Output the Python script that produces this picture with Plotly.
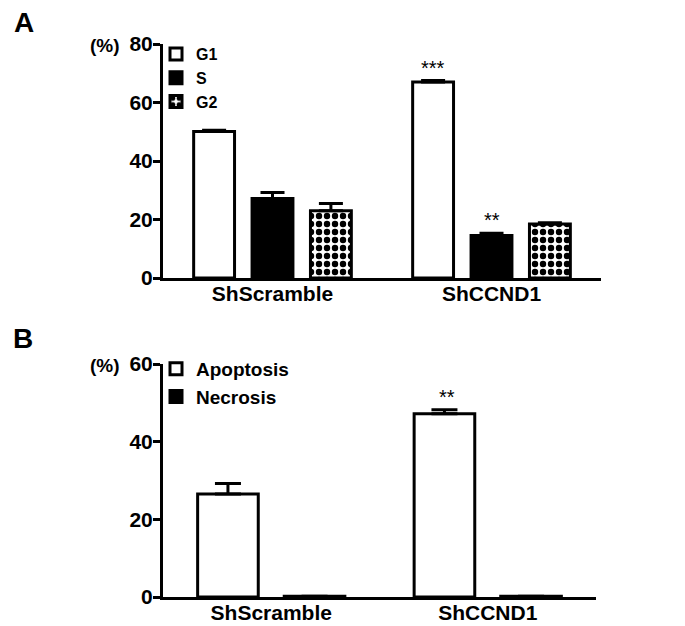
import plotly.graph_objects as go

# ---------------- data ----------------
groups = ["ShScramble", "ShCCND1"]

# Panel A: cell cycle phases (%)
phases = ["G1", "S", "G2"]
g1_mean = [50.1, 67.0]
g1_err = [0.4, 0.5]
s_mean = [27.2, 14.5]
s_err = [2.0, 0.8]
g2_mean = [23.0, 18.5]
g2_err = [2.5, 0.4]
sig_A = {"G1": ["", "***"], "S": ["", "**"], "G2": ["", ""]}

# Panel B: apoptosis / necrosis (%)
apo_mean = [26.5, 47.2]
apo_err = [2.7, 1.0]
nec_mean = [0.2, 0.2]
nec_err = [0.0, 0.0]
sig_B = {"Apoptosis": ["", "**"], "Necrosis": ["", ""]}

yticks_A = [0, 20, 40, 60, 80]
yticks_B = [0, 20, 40, 60]

# ---------------- style ----------------
FONT = "Arial, Liberation Sans, sans-serif"
OX, OY = 0, 8                # observed page offset of the figure
W, H = 685 - 8, 626 - OY
LW = 3

def px(x):
    return (x - OX) / W

def py(y):
    return 1 - (y - OY) / H

fig = go.Figure()

def bar(name, x, y, err, fill, xa, ya, legend, pattern=None, capw=12):
    marker = dict(color=fill, line=dict(color="black", width=LW))
    if pattern:
        marker["pattern"] = pattern
    fig.add_trace(go.Bar(
        name=name, x=x, y=y, xaxis=xa, yaxis=ya, legend=legend,
        marker=marker,
        error_y=dict(type="data", array=err, arrayminus=[0] * len(err),
                     symmetric=False, color="black", thickness=LW, width=capw),
    ))

# panel A
bar("G1", groups, g1_mean, g1_err, "white", "x", "y", "legend")
bar("S", groups, s_mean, s_err, "black", "x", "y", "legend")
bar("G2", groups, g2_mean, g2_err, "white", "x", "y", "legend",
    pattern=dict(shape=".", fgcolor="black", bgcolor="white", size=8, solidity=0.5))
# panel B
bar("Apoptosis", groups, apo_mean, apo_err, "white", "x2", "y2", "legend2", capw=13)
bar("Necrosis", groups, nec_mean, nec_err, "black", "x2", "y2", "legend2", capw=13)

BARGAP_A = 0.2
BARGAP_B = 0.25
GROUPGAP = 0.3

annotations = []

def add_sig(means, errs, sigs, ntr, idx, xref, yref, gap):
    slot = (1 - gap) / ntr
    off = -(1 - gap) / 2 + (idx + 0.5) * slot
    for gi, (m, e, s) in enumerate(zip(means, errs, sigs)):
        if s:
            annotations.append(dict(x=gi + off, y=m + e, xref=xref, yref=yref,
                                    text=s, showarrow=False, xanchor="center", yanchor="bottom",
                                    yshift=0, font=dict(family=FONT, size=20, color="black")))

add_sig(g1_mean, g1_err, sig_A["G1"], 3, 0, "x", "y", BARGAP_A)
add_sig(s_mean, s_err, sig_A["S"], 3, 1, "x", "y", BARGAP_A)
add_sig(apo_mean, apo_err, sig_B["Apoptosis"], 2, 0, "x2", "y2", BARGAP_B)

# panel letters and (%) labels
annotations += [
    dict(x=px(16), y=py(23), xref="paper", yref="paper", text="<b>A</b>",
         xanchor="center", yanchor="middle",
         showarrow=False, font=dict(family=FONT, size=28, color="black")),
    dict(x=px(15), y=py(338), xref="paper", yref="paper", text="<b>B</b>",
         xanchor="center", yanchor="middle",
         showarrow=False, font=dict(family=FONT, size=28, color="black")),
    dict(x=px(114), y=py(45), xref="paper", yref="paper", text="<b>(%)</b>",
         showarrow=False, xanchor="right", yanchor="middle",
         font=dict(family=FONT, size=19, color="black")),
    dict(x=px(114), y=py(365), xref="paper", yref="paper", text="<b>(%)</b>",
         showarrow=False, xanchor="right", yanchor="middle",
         font=dict(family=FONT, size=19, color="black")),
]

yax = dict(showline=True, linecolor="black", linewidth=LW, ticks="outside",
           ticklen=7, tickwidth=LW, tickcolor="black", showgrid=False, zeroline=False,
           automargin=False, ticklabelstandoff=-4,
           tickfont=dict(family=FONT, size=21, color="black", weight="bold"))
xax = dict(showline=True, linecolor="black", linewidth=LW, ticks="", showgrid=False,
           zeroline=False, range=[-0.5, 1.5], automargin=False, ticklabelstandoff=-5,
           tickfont=dict(family=FONT, size=21, color="black", weight="bold"))

fig.update_layout(
    template="none",
    width=W, height=H, margin=dict(l=0, r=0, t=0, b=0, pad=0, autoexpand=False),
    paper_bgcolor="white", plot_bgcolor="white",
    barmode="group", bargap=BARGAP_A, bargroupgap=GROUPGAP,
    showlegend=True,
    xaxis=dict(xax, domain=[px(155), px(593)], anchor="y"),
    yaxis=dict(yax, domain=[py(278), py(44)], range=[0, 80], tickvals=yticks_A, anchor="x"),
    xaxis2=dict(xax, domain=[px(155), px(588)], anchor="y2"),
    yaxis2=dict(yax, domain=[py(597), py(364)], range=[0, 60], tickvals=yticks_B, anchor="x2"),
    legend=dict(x=px(148), y=py(37), xanchor="left", yanchor="top",
                bgcolor="rgba(0,0,0,0)", tracegroupgap=0, itemwidth=30,
                font=dict(family=FONT, size=16, color="black", weight="bold")),
    legend2=dict(x=px(148), y=py(350), xanchor="left", yanchor="top",
                 bgcolor="rgba(0,0,0,0)", tracegroupgap=0, itemwidth=30,
                 font=dict(family=FONT, size=19, color="black", weight="bold")),
    annotations=annotations,
)

fig.write_html("out.html")
